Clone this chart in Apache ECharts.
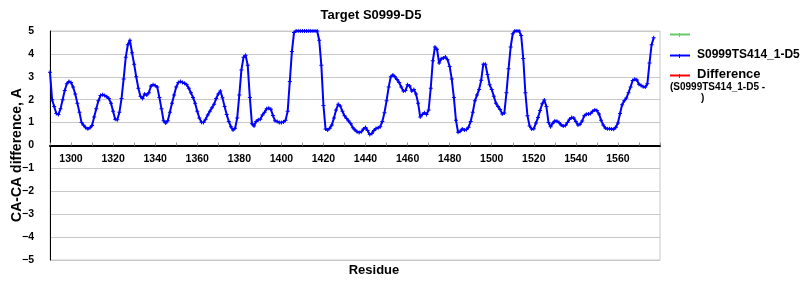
<!DOCTYPE html>
<html>
<head>
<meta charset="utf-8">
<script src="https://cdn.jsdelivr.net/npm/echarts@6/dist/echarts.min.js"></script>
<style>html,body{margin:0;padding:0;background:#fff}#c{width:800px;height:300px}</style>
</head>
<body>
<div id="c"></div>
<script>
// ---- data ----
const chartTitle = 'Target S0999-D5';
const seriesName = 'S0999TS414_1-D5';
const firstResidue = 1290;
const caDiff = [
  3.2, 2.0, 1.7, 1.4, 1.35, 1.6, 2.0, 2.4, 2.7, 2.8,
  2.75, 2.55, 2.25, 1.85, 1.45, 1.0, 0.88, 0.78, 0.73, 0.77,
  0.87, 1.25, 1.6, 1.95, 2.18, 2.22, 2.18, 2.13, 2.05, 1.85,
  1.5, 1.15, 1.12, 1.45, 2.05, 2.9, 3.85, 4.4, 4.6, 4.05,
  3.55, 3.0, 2.5, 2.15, 2.05, 2.25, 2.2, 2.3, 2.6, 2.65,
  2.62, 2.55, 2.1, 1.6, 1.08, 0.98, 1.08, 1.45, 1.85, 2.2,
  2.55, 2.75, 2.8, 2.75, 2.72, 2.65, 2.5, 2.3, 2.1, 1.85,
  1.5, 1.2, 1.02, 1.0, 1.15, 1.33, 1.5, 1.65, 1.8, 2.05,
  2.25, 2.38, 2.08, 1.7, 1.35, 1.05, 0.82, 0.68, 0.75, 1.2,
  2.2, 3.3, 3.85, 3.94, 3.5, 2.1, 0.95, 0.85, 1.05, 1.12,
  1.15, 1.33, 1.45, 1.6, 1.63, 1.58, 1.31, 1.08, 1.05, 1.0,
  1.0, 1.03, 1.1, 1.5, 2.8, 4.1, 4.93, 5, 5, 5,
  5, 5, 5, 5, 5, 5, 5, 5, 4.6, 3.5,
  1.75, 0.72, 0.68, 0.75, 0.9, 1.2, 1.55, 1.8, 1.72, 1.5,
  1.3, 1.18, 1.07, 0.95, 0.78, 0.68, 0.6, 0.57, 0.6, 0.72,
  0.79, 0.65, 0.48, 0.52, 0.66, 0.74, 0.77, 0.82, 1.05, 1.43,
  1.95, 2.55, 3.0, 3.08, 3.0, 2.88, 2.75, 2.55, 2.38, 2.4,
  2.65, 2.6, 2.38, 2.45, 2.25, 1.85, 1.25, 1.35, 1.43, 1.35,
  1.55, 2.5, 3.7, 4.3, 4.2, 3.6, 3.79, 3.82, 3.86, 3.75,
  3.45, 2.9, 2.1, 1.1, 0.58, 0.62, 0.72, 0.68, 0.7, 0.8,
  1.05, 1.45, 1.95, 2.2, 2.45, 2.85, 3.55, 3.55, 3.1, 2.65,
  2.45, 2.15, 1.85, 1.7, 1.57, 1.38, 1.42, 2.3, 3.35, 4.3,
  4.88, 5, 5, 5, 4.8, 3.8, 2.3, 1.3, 0.85, 0.72,
  0.73, 0.98, 1.22, 1.53, 1.82, 1.99, 1.7, 1.0, 0.82, 0.97,
  1.07, 1.06, 1.0, 0.9, 0.85, 0.87, 1.0, 1.15, 1.22, 1.2,
  1.05, 0.9, 0.93, 1.07, 1.3, 1.37, 1.38, 1.4, 1.5, 1.55,
  1.53, 1.38, 1.1, 0.9, 0.76, 0.73, 0.73, 0.72, 0.71, 0.8,
  0.98, 1.4, 1.78, 1.95, 2.07, 2.3, 2.55, 2.84, 2.89, 2.86,
  2.68, 2.62, 2.57, 2.55, 2.7, 3.6, 4.4, 4.7
];
const xMin = 1290, xMax = 1580, xStep = 10;
const xLabelTicks = [1300, 1320, 1340, 1360, 1380, 1400, 1420, 1440, 1460, 1480, 1500, 1520, 1540, 1560];
const yMin = -5, yMax = 5, yStep = 1;

// ---- chart ----
const seriesData = caDiff.map((v, i) => [firstResidue + i, v]);
const FONT = 'Liberation Sans';
const plus = 'path://M1.5,0h1v4h-1zM0,1.5h4v1h-4z';
const gridTop = 31, gridBottom = 40, H = 300;
const plotH = H - gridTop - gridBottom;
// distance from bottom edge of plot up to value 0
const zeroOffset = plotH * (0 - yMin) / (yMax - yMin);

const chart = echarts.init(document.getElementById('c'), null, {renderer: 'canvas'});
chart.setOption({
  animation: false,
  backgroundColor: '#ffffff',
  grid: {left: 50, right: 140, top: gridTop, bottom: gridBottom, show: true, borderColor: '#c8c8c8', borderWidth: 1, containLabel: false},
  xAxis: {
    type: 'value', min: xMin, max: xMax, interval: xStep, position: 'bottom',
    offset: -zeroOffset,
    axisLine: {onZero: false, lineStyle: {color: '#000', width: 2}},
    axisTick: {show: true, inside: true, length: 3, lineStyle: {color: '#999'}},
    splitLine: {show: false},
    axisLabel: {
      margin: 8, fontFamily: FONT, fontWeight: 'bold', fontSize: 10.5, color: '#000',
      formatter: v => xLabelTicks.indexOf(v) >= 0 ? String(v) : ''
    }
  },
  yAxis: {
    type: 'value', min: yMin, max: yMax, interval: yStep,
    axisLine: {show: true, lineStyle: {color: '#000', width: 1}},
    axisTick: {show: false},
    splitLine: {show: true, lineStyle: {color: '#c8c8c8', width: 1}},
    axisLabel: {
      margin: 16, fontFamily: FONT, fontWeight: 'bold', fontSize: 10.5, color: '#000',
      formatter: v => String(v).replace('-', '\u2212')
    }
  },
  series: [{
    name: seriesName, type: 'line', data: seriesData,
    lineStyle: {color: '#0000ff', width: 2},
    itemStyle: {color: '#0000ff'},
    symbol: plus, symbolSize: 4, showSymbol: true,
    clip: false
  }],
  graphic: [
    {type: 'text', x: 371, y: 15, style: {text: chartTitle, font: 'bold 13px "' + FONT + '"', fill: '#000', textAlign: 'center', textVerticalAlign: 'middle'}},
    {type: 'text', x: 374, y: 270, style: {text: 'Residue', font: 'bold 13px "' + FONT + '"', fill: '#000', textAlign: 'center', textVerticalAlign: 'middle'}},
    {type: 'text', x: 17, y: 155, rotation: Math.PI / 2, style: {text: 'CA-CA difference, A', font: 'bold 14px "' + FONT + '"', fill: '#000', textAlign: 'center', textVerticalAlign: 'middle'}},
    // legend
    {type: 'line', shape: {x1: 670, y1: 34.5, x2: 690, y2: 34.5}, style: {stroke: '#66cc66', lineWidth: 2}},
    {type: 'rect', shape: {x: 679, y: 33, width: 1, height: 4}, style: {fill: '#66cc66'}},
    {type: 'line', shape: {x1: 670, y1: 55.5, x2: 690, y2: 55.5}, style: {stroke: '#0000ff', lineWidth: 2}},
    {type: 'rect', shape: {x: 679, y: 54, width: 1, height: 4}, style: {fill: '#0000ff'}},
    {type: 'text', x: 697, y: 55, style: {text: seriesName, font: 'bold 12px "' + FONT + '"', fill: '#000', textVerticalAlign: 'middle'}},
    {type: 'line', shape: {x1: 670, y1: 75.5, x2: 690, y2: 75.5}, style: {stroke: '#ff0000', lineWidth: 2}},
    {type: 'rect', shape: {x: 679, y: 74, width: 1, height: 4}, style: {fill: '#ff0000'}},
    {type: 'text', x: 697, y: 74, style: {text: 'Difference', font: 'bold 13px "' + FONT + '"', fill: '#000', textVerticalAlign: 'middle'}},
    {type: 'text', x: 670, y: 87, style: {text: '(' + seriesName + ' -', font: 'bold 10px "' + FONT + '"', fill: '#000', textVerticalAlign: 'middle'}},
    {type: 'text', x: 701, y: 98, style: {text: ')', font: 'bold 10px "' + FONT + '"', fill: '#000', textVerticalAlign: 'middle'}}
  ]
});
</script>
</body>
</html>
